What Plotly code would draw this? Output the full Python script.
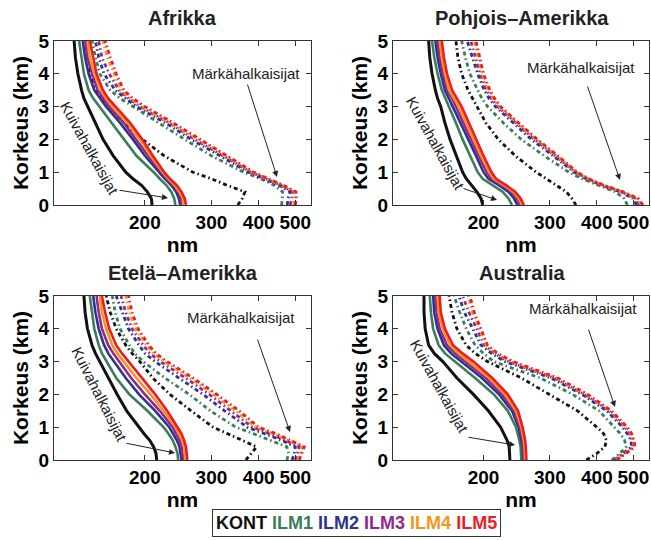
import plotly.graph_objects as go

# ---------------- data ----------------
heights = [0, 0.2, 0.4, 0.6, 0.8, 1.0, 1.5, 2.0, 2.5, 3.0, 3.25, 3.5, 4.0, 4.5, 5.0]
models = ["KONT", "ILM1", "ILM2", "ILM3", "ILM4", "ILM5"]
model_colors = ["#111111", "#3b7d5a", "#2e3192", "#92278f", "#f7941d", "#ed1c24"]
x_tick_values = [200, 300, 400, 500]
y_tick_values = [0, 1, 2, 3, 4, 5]

# Afrikka
afr_dry = {
    "KONT": [209, 208, 203, 196, 186, 178, 165, 155, 148, 141, 138, 136, 133, 131, 130],
    "ILM1": [241, 239, 235, 228, 219, 211, 190, 176, 163, 151, 146, 142, 138, 136, 134],
    "ILM2": [248, 246, 242, 235, 226, 218, 200, 186, 172, 158, 152, 147, 142, 139, 137],
    "ILM3": [250, 249, 245, 238, 229, 221, 204, 190, 176, 161, 155, 150, 145, 141, 139],
    "ILM4": [253, 252, 247, 240, 231, 223, 207, 194, 180, 164, 158, 153, 147, 143, 141],
    "ILM5": [257, 255, 250, 243, 233, 225, 210, 197, 183, 167, 160, 155, 149, 146, 143],
}
afr_wet = {
    "KONT": [352, 362, 368, 330, 300, 268, 225, 197, 176, 160, 153, 148, 143, 141, 140],
    "ILM1": [460, 461, 463, 440, 405, 365, 300, 255, 218, 185, 172, 162, 152, 148, 145],
    "ILM2": [476, 478, 484, 453, 412, 376, 316, 265, 227, 190, 178, 167, 156, 151, 148],
    "ILM3": [485, 488, 492, 458, 418, 381, 322, 271, 232, 194, 181, 171, 161, 154, 151],
    "ILM4": [495, 498, 498, 462, 422, 385, 327, 276, 235, 197, 183, 173, 166, 159, 155],
    "ILM5": [500, 503, 502, 465, 425, 388, 330, 280, 238, 200, 186, 176, 168, 162, 157],
}
# Pohjois-Amerikka
pam_dry = {
    "KONT": [199, 197, 192, 186, 180, 176, 169, 163, 158, 154, 151, 149, 146, 144, 143],
    "ILM1": [238, 233, 225, 212, 199, 193, 184, 176, 169, 162, 158, 155, 151, 148, 146],
    "ILM2": [246, 241, 233, 220, 206, 200, 191, 182, 174, 166, 162, 158, 154, 151, 149],
    "ILM3": [250, 245, 237, 224, 210, 204, 194, 185, 177, 169, 165, 160, 156, 153, 151],
    "ILM4": [253, 248, 240, 227, 213, 207, 197, 188, 180, 172, 167, 162, 158, 155, 153],
    "ILM5": [256, 251, 243, 230, 216, 210, 200, 191, 183, 175, 170, 165, 160, 157, 155],
}
pam_wet = {
    "KONT": [352, 343, 332, 313, 295, 276, 243, 219, 203, 192, 187, 182, 175, 171, 169],
    "ILM1": [482, 472, 448, 402, 365, 337, 290, 252, 226, 205, 198, 193, 184, 179, 175],
    "ILM2": [510, 498, 462, 412, 375, 348, 306, 268, 240, 215, 207, 201, 193, 187, 181],
    "ILM3": [518, 505, 466, 415, 377, 351, 310, 273, 244, 218, 210, 204, 196, 190, 185],
    "ILM4": [525, 510, 468, 417, 379, 353, 313, 276, 246, 220, 212, 206, 198, 193, 189],
    "ILM5": [530, 515, 470, 418, 380, 355, 315, 278, 248, 222, 214, 208, 200, 195, 191],
}
# Etelä-Amerikka
sam_dry = {
    "KONT": [215, 214, 211, 206, 199, 193, 179, 169, 160, 152, 148, 145, 141, 139, 138],
    "ILM1": [245, 244, 241, 237, 231, 224, 203, 182, 168, 158, 154, 151, 147, 145, 143],
    "ILM2": [250, 249, 247, 243, 238, 232, 213, 193, 178, 166, 160, 156, 151, 148, 146],
    "ILM3": [253, 252, 250, 247, 242, 237, 219, 200, 184, 171, 165, 160, 154, 151, 149],
    "ILM4": [256, 255, 254, 251, 246, 241, 224, 207, 190, 176, 169, 164, 158, 154, 152],
    "ILM5": [259, 258, 257, 254, 250, 244, 229, 213, 196, 181, 174, 168, 161, 157, 154],
}
sam_wet = {
    "KONT": [370, 383, 395, 362, 330, 303, 265, 233, 210, 194, 185, 178, 168, 162, 158],
    "ILM1": [475, 480, 475, 430, 388, 348, 298, 262, 226, 198, 188, 182, 172, 167, 164],
    "ILM2": [490, 497, 500, 460, 415, 373, 325, 285, 246, 213, 200, 193, 181, 174, 168],
    "ILM3": [500, 507, 512, 470, 428, 385, 337, 296, 256, 220, 206, 198, 185, 178, 173],
    "ILM4": [507, 515, 522, 480, 438, 393, 347, 304, 263, 225, 211, 202, 189, 182, 178],
    "ILM5": [512, 520, 528, 485, 445, 400, 355, 310, 268, 229, 214, 205, 192, 185, 181],
}
# Australia
aus_dry = {
    "KONT": [235, 235, 234, 231, 227, 222, 206, 188, 170, 156, 148, 143, 140, 139, 139],
    "ILM1": [252, 252, 251, 249, 247, 244, 232, 213, 190, 168, 158, 152, 147, 145, 144],
    "ILM2": [255, 255, 254, 252, 250, 248, 238, 220, 198, 175, 164, 157, 151, 148, 147],
    "ILM3": [256, 256, 255, 254, 252, 250, 241, 224, 203, 179, 168, 160, 153, 150, 149],
    "ILM4": [258, 258, 257, 256, 254, 252, 244, 228, 207, 183, 172, 163, 156, 152, 151],
    "ILM5": [260, 260, 259, 258, 256, 254, 247, 232, 211, 188, 176, 166, 158, 154, 153],
}
aus_wet = {
    "KONT": [375, 400, 420, 424, 417, 400, 355, 298, 252, 205, 190, 180, 170, 165, 162],
    "ILM1": [438, 460, 478, 474, 462, 445, 405, 345, 283, 213, 200, 190, 180, 173, 167],
    "ILM2": [445, 470, 495, 492, 482, 468, 425, 365, 302, 228, 210, 197, 187, 178, 172],
    "ILM3": [448, 474, 500, 497, 488, 475, 431, 371, 308, 233, 214, 201, 192, 183, 176],
    "ILM4": [450, 476, 503, 500, 492, 479, 434, 375, 312, 237, 216, 203, 195, 187, 182],
    "ILM5": [452, 478, 505, 502, 495, 482, 437, 378, 315, 240, 218, 205, 197, 189, 184],
}

regions = [
    ("Afrikka", afr_dry, afr_wet, "x", "y"),
    ("Pohjois\u2013Amerikka", pam_dry, pam_wet, "x2", "y2"),
    ("Etel\u00e4\u2013Amerikka", sam_dry, sam_wet, "x3", "y3"),
    ("Australia", aus_dry, aus_wet, "x4", "y4"),
]

FONT = "Liberation Sans, Arial, Helvetica, sans-serif"
W, H = 651, 540

fig = go.Figure()
for name, dry, wet, xa, ya in regions:
    for m, c in zip(models, model_colors):
        fig.add_trace(go.Scatter(
            x=wet[m], y=heights, mode="lines", xaxis=xa, yaxis=ya,
            line=dict(color=c, width=2.8, dash="4px,3px,1.5px,3px"),
            showlegend=False, hoverinfo="skip"))
    for m, c in zip(models, model_colors):
        fig.add_trace(go.Scatter(
            x=dry[m], y=heights, mode="lines", xaxis=xa, yaxis=ya,
            line=dict(color=c, width=3 if m == "KONT" else 2.6),
            showlegend=False, hoverinfo="skip"))

# ---------------- layout ----------------
def px_x(p):
    return p / W

def px_y(p):
    return 1 - p / H

xdom_left = [px_x(54), px_x(311)]
xdom_right = [px_x(393), px_x(649)]
ydom_top = [px_y(205), px_y(41)]
ydom_bot = [px_y(460), px_y(296)]

tickfont = dict(family=FONT, size=19, color="black", weight="bold")
titlefont = dict(family=FONT, size=21, color="black", weight="bold")

def xaxis(dom, anchor):
    return dict(
        domain=dom, anchor=anchor, type="log", automargin=False,
        range=[2.0607, 2.7404],
        tickvals=x_tick_values, ticktext=[str(v) for v in x_tick_values],
        ticks="inside", ticklen=5, tickcolor="#333", tickwidth=1,
        showline=True, linecolor="#333", linewidth=1.2, mirror="ticks",
        showgrid=False, zeroline=False, tickfont=tickfont,
        title=dict(text="nm", font=titlefont, standoff=0),
    )

def yaxis(dom, anchor):
    return dict(
        domain=dom, anchor=anchor, range=[0, 5], automargin=False,
        tickvals=y_tick_values,
        ticks="inside", ticklen=5, tickcolor="#333", tickwidth=1,
        showline=True, linecolor="#333", linewidth=1.2, mirror="ticks",
        showgrid=False, zeroline=False, tickfont=tickfont,
        title=dict(text="Korkeus (km)", font=titlefont, standoff=4),
    )

fig.update_layout(
    width=W, height=H, margin=dict(l=0, r=0, t=0, b=0, autoexpand=False),
    paper_bgcolor="white", plot_bgcolor="white", showlegend=False,
    xaxis=xaxis(xdom_left, "y"), yaxis=yaxis(ydom_top, "x"),
    xaxis2=xaxis(xdom_right, "y2"), yaxis2=yaxis(ydom_top, "x2"),
    xaxis3=xaxis(xdom_left, "y3"), yaxis3=yaxis(ydom_bot, "x3"),
    xaxis4=xaxis(xdom_right, "y4"), yaxis4=yaxis(ydom_bot, "x4"),
)

annots = []
# subplot titles
title_pos = [(182.5, 18), (521.5, 18), (182.5, 273), (521.5, 273)]
for (name, *_), (tx, ty) in zip(regions, title_pos):
    annots.append(dict(text=name, x=px_x(tx), y=px_y(ty), xref="paper", yref="paper",
                       showarrow=False, xanchor="center", yanchor="middle",
                       font=dict(family=FONT, size=20, color="#222", weight="bold")))

labfont = dict(family=FONT, size=15, color="#222")
# (wet text center, wet arrow head, wet tail offset, dry text center, angle, dry head, dry tail offset)
label_geo = [
    ((246, 73), (277, 177), (-30, -94), (90, 148), 61, (168, 198), (-50, -8)),
    ((581, 67), (620, 180), (-33, -95), (436, 143), 61, (497, 200), (-35, -12)),
    ((241, 317), (290, 432), (-33, -94), (100, 394), 63, (175, 453), (-50, -10)),
    ((583, 308), (615, 407), (-27, -79), (440, 386), 61, (515, 445), (-48, -8)),
]
for wt, wh, wo, dt, ang, dh, do in label_geo:
    annots.append(dict(text="M\u00e4rk\u00e4halkaisijat", x=px_x(wt[0]), y=px_y(wt[1]),
                       xref="paper", yref="paper", showarrow=False, font=labfont,
                       xanchor="center", yanchor="middle"))
    annots.append(dict(text="", x=px_x(wh[0]), y=px_y(wh[1]), xref="paper", yref="paper",
                       showarrow=True, ax=wo[0], ay=wo[1], arrowhead=2, arrowsize=1.2,
                       arrowwidth=1, arrowcolor="#222"))
    annots.append(dict(text="Kuivahalkaisijat", x=px_x(dt[0]), y=px_y(dt[1]),
                       xref="paper", yref="paper", showarrow=False, textangle=ang,
                       font=labfont, xanchor="center", yanchor="middle"))
    annots.append(dict(text="", x=px_x(dh[0]), y=px_y(dh[1]), xref="paper", yref="paper",
                       showarrow=True, ax=do[0], ay=do[1], arrowhead=2, arrowsize=1.2,
                       arrowwidth=1, arrowcolor="#222"))

# legend box
leg_text = " ".join(f"<span style='color:{c}'>{m}</span>" for m, c in zip(models, model_colors))
annots.append(dict(text=leg_text, x=px_x(356), y=px_y(523), xref="paper", yref="paper",
                   showarrow=False, xanchor="center", yanchor="middle",
                   font=dict(family=FONT, size=18, color="black", weight="bold"),
                   bordercolor="#333", borderwidth=1, borderpad=3, bgcolor="white"))

fig.update_layout(annotations=annots)
fig.write_html("out.html")
